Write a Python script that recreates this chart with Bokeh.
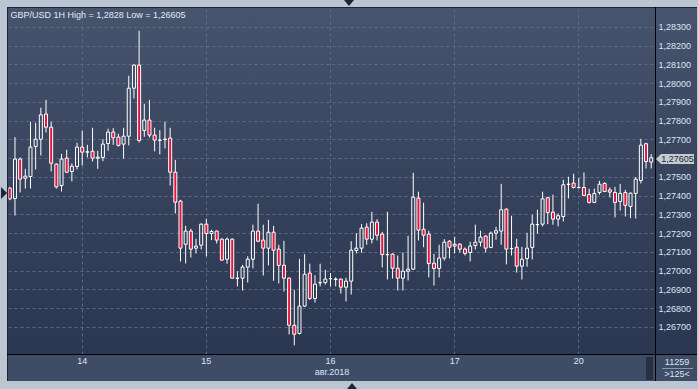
from bokeh.plotting import figure
from bokeh.models import ColumnDataSource, FixedTicker, Range1d, Label, CustomJSTickFormatter
from bokeh.embed import file_html
from bokeh.resources import INLINE

# ---------------- data (GBP/USD, 1H candles, 13-20 Aug 2018) ----------------
open_ = [1.27443, 1.27388, 1.27598, 1.27496, 1.27505, 1.27665, 1.27704, 1.27838, 1.27768, 1.27571,
         1.27457, 1.27603, 1.27532, 1.27559, 1.27662, 1.27635, 1.27640, 1.27603, 1.27607, 1.27681,
         1.27742, 1.27715, 1.27678, 1.27720, 1.27976, 1.28099, 1.27751, 1.27806, 1.27726, 1.27699,
         1.27703, 1.27710, 1.27528, 1.27374, 1.27144, 1.27214, 1.27123, 1.27139, 1.27251, 1.27201,
         1.27214, 1.27171, 1.27064, 1.27171, 1.26963, 1.26963, 1.27022, 1.27064, 1.27214, 1.27166,
         1.27123, 1.27208, 1.27118, 1.27032, 1.26963, 1.26712, 1.26668, 1.26814, 1.26990, 1.26855,
         1.26938, 1.26940, 1.26960, 1.26958, 1.26958, 1.26915, 1.26947, 1.27111, 1.27123, 1.27235,
         1.27171, 1.27262, 1.27198, 1.27089, 1.27091, 1.27016, 1.26963, 1.27000, 1.27011, 1.27390,
         1.27224, 1.27198, 1.27043, 1.27015, 1.27070, 1.27160, 1.27134, 1.27144, 1.27118, 1.27100,
         1.27137, 1.27155, 1.27187, 1.27127, 1.27203, 1.27214, 1.27331, 1.27120, 1.27128, 1.27027,
         1.27068, 1.27127, 1.27248, 1.27251, 1.27392, 1.27315, 1.27278, 1.27292, 1.27463, 1.27470,
         1.27447, 1.27447, 1.27409, 1.27367, 1.27420, 1.27468, 1.27434, 1.27420, 1.27372, 1.27420,
         1.27345, 1.27415, 1.27484, 1.27680, 1.27582]
high = [1.27450, 1.27715, 1.27607, 1.27546, 1.27797, 1.27792, 1.27872, 1.27914, 1.27797, 1.27575,
        1.27626, 1.27648, 1.27575, 1.27685, 1.27749, 1.27674, 1.27765, 1.27642, 1.27704, 1.27760,
        1.27763, 1.27733, 1.27765, 1.28042, 1.28103, 1.28282, 1.27893, 1.27914, 1.27765, 1.27752,
        1.27797, 1.27765, 1.27594, 1.27381, 1.27242, 1.27226, 1.27173, 1.27255, 1.27280, 1.27221,
        1.27217, 1.27176, 1.27180, 1.27175, 1.27000, 1.27034, 1.27080, 1.27248, 1.27360, 1.27248,
        1.27274, 1.27242, 1.27141, 1.27162, 1.26967, 1.26901, 1.27066, 1.27091, 1.27040, 1.26979,
        1.27040, 1.27008, 1.26990, 1.26968, 1.26961, 1.26965, 1.27160, 1.27203, 1.27251, 1.27256,
        1.27317, 1.27278, 1.27210, 1.27317, 1.27095, 1.27084, 1.27100, 1.27189, 1.27525, 1.27424,
        1.27365, 1.27216, 1.27093, 1.27141, 1.27171, 1.27166, 1.27184, 1.27150, 1.27127, 1.27157,
        1.27248, 1.27216, 1.27192, 1.27212, 1.27237, 1.27466, 1.27335, 1.27296, 1.27173, 1.27130,
        1.27205, 1.27301, 1.27328, 1.27424, 1.27397, 1.27408, 1.27308, 1.27488, 1.27504, 1.27520,
        1.27498, 1.27527, 1.27440, 1.27441, 1.27482, 1.27475, 1.27447, 1.27450, 1.27466, 1.27434,
        1.27420, 1.27502, 1.27706, 1.27685, 1.27624]
low = [1.27379, 1.27297, 1.27420, 1.27441, 1.27441, 1.27543, 1.27617, 1.27740, 1.27532, 1.27441,
       1.27425, 1.27525, 1.27479, 1.27543, 1.27564, 1.27607, 1.27585, 1.27546, 1.27587, 1.27642,
       1.27674, 1.27665, 1.27601, 1.27671, 1.27921, 1.27687, 1.27717, 1.27713, 1.27639, 1.27623,
       1.27655, 1.27457, 1.27308, 1.27052, 1.27041, 1.27073, 1.27095, 1.27116, 1.27079, 1.27166,
       1.27148, 1.27056, 1.27040, 1.26960, 1.26919, 1.26897, 1.26940, 1.27015, 1.27155, 1.26977,
       1.27031, 1.26949, 1.26935, 1.26892, 1.26663, 1.26605, 1.26663, 1.26810, 1.26846, 1.26833,
       1.26919, 1.26929, 1.26919, 1.26919, 1.26881, 1.26839, 1.26876, 1.27095, 1.27098, 1.27141,
       1.27148, 1.27164, 1.27020, 1.26956, 1.26961, 1.26897, 1.26897, 1.26951, 1.27008, 1.27164,
       1.27128, 1.26967, 1.26924, 1.26967, 1.27057, 1.27068, 1.27095, 1.27100, 1.27084, 1.27052,
       1.27116, 1.27132, 1.27100, 1.27123, 1.27168, 1.27141, 1.27036, 1.27084, 1.26993, 1.26956,
       1.27024, 1.27063, 1.27200, 1.27239, 1.27251, 1.27248, 1.27239, 1.27265, 1.27388, 1.27441,
       1.27441, 1.27400, 1.27361, 1.27363, 1.27408, 1.27422, 1.27393, 1.27287, 1.27324, 1.27292,
       1.27283, 1.27281, 1.27468, 1.27548, 1.27548]
close = [1.27386, 1.27598, 1.27491, 1.27507, 1.27662, 1.27704, 1.27834, 1.27768, 1.27576, 1.27450,
         1.27598, 1.27528, 1.27560, 1.27662, 1.27635, 1.27637, 1.27603, 1.27608, 1.27678, 1.27742,
         1.27712, 1.27671, 1.27720, 1.27976, 1.28099, 1.27697, 1.27806, 1.27726, 1.27699, 1.27698,
         1.27704, 1.27528, 1.27368, 1.27123, 1.27214, 1.27118, 1.27134, 1.27251, 1.27201, 1.27212,
         1.27166, 1.27059, 1.27171, 1.26963, 1.26962, 1.27022, 1.27064, 1.27214, 1.27160, 1.27123,
         1.27208, 1.27112, 1.27031, 1.26963, 1.26712, 1.26664, 1.26814, 1.26984, 1.26855, 1.26931,
         1.26940, 1.26958, 1.26961, 1.26956, 1.26915, 1.26947, 1.27112, 1.27123, 1.27230, 1.27171,
         1.27262, 1.27192, 1.27089, 1.27088, 1.27016, 1.26963, 1.27000, 1.27011, 1.27395, 1.27219,
         1.27192, 1.27041, 1.27015, 1.27070, 1.27155, 1.27128, 1.27144, 1.27118, 1.27095, 1.27134,
         1.27155, 1.27182, 1.27123, 1.27203, 1.27216, 1.27328, 1.27118, 1.27121, 1.27027, 1.27064,
         1.27123, 1.27251, 1.27249, 1.27386, 1.27313, 1.27278, 1.27296, 1.27461, 1.27464, 1.27447,
         1.27446, 1.27404, 1.27367, 1.27415, 1.27464, 1.27425, 1.27422, 1.27367, 1.27415, 1.27351,
         1.27416, 1.27491, 1.27672, 1.27585, 1.27605]

date_tick_pos = [14, 38, 62, 86, 110]
date_tick_labels = ["14", "15", "16", "17", "20"]
month_label = "авг.2018"
price_ticks = [1.267, 1.268, 1.269, 1.270, 1.271, 1.272, 1.273, 1.274, 1.275,
               1.276, 1.277, 1.278, 1.279, 1.280, 1.281, 1.282, 1.283]
title_text = "GBP/USD 1H High = 1,2828 Low = 1,26605"
last_price_text = "1,27605"
bars_count_text = "11259"
visible_bars_text = "&gt;125&lt;"

# ---------------- layout / style ----------------
W, H = 690, 374            # figure size (placed at page offset 7,7)
FIG_X, FIG_Y = 7, 7
BL, BR, BT, BB = 1, 42, 1, 27
FRAME_W = W - BL - BR
FRAME_H = H - BT - BB
X0, X1 = -0.25, 124.83
Y0, Y1 = 1.26556, 1.28401

TEXT = "#dbe5f3"
FONT = "Liberation Sans"
BEAR_FILL = "#e3173e"
TAG_BG = "#c6cbd2"


def data_x(abs_px):
    return X0 + (abs_px - FIG_X - BL) * (X1 - X0) / FRAME_W


def data_y(abs_py):
    return Y1 - (abs_py - FIG_Y - BT) * (Y1 - Y0) / FRAME_H


def page_y(price):
    return FIG_Y + BT + (Y1 - price) * FRAME_H / (Y1 - Y0)


xs = list(range(len(open_)))
body_top = [max(o, c) for o, c in zip(open_, close)]
body_bot = [min(o, c) for o, c in zip(open_, close)]
is_bear = [c < o for o, c in zip(open_, close)]
src = ColumnDataSource(dict(
    x=xs, h=high, l=low, top=body_top, bot=body_bot,
    fill=[BEAR_FILL if b else "#000000" for b in is_bear],
    falpha=[1.0 if b else 0.0 for b in is_bear],
))

p = figure(width=W, height=H, output_backend="svg", toolbar_location=None, tools="",
           x_range=Range1d(X0, X1), y_range=Range1d(Y0, Y1),
           y_axis_location="right",
           min_border_left=BL, min_border_right=BR, min_border_top=BT, min_border_bottom=BB)
p.border_fill_alpha = 0
p.background_fill_alpha = 0
p.outline_line_color = None

# CSS background: gradient plot panel, bottom date strip, black separators
layers = [
    ("#000000", 0, FRAME_H + BT, W, 1),              # horizontal separator
    ("#000000", W - BR, 0, 1, H),                     # vertical separator
    ("#1c2538", 0, 0, 1, H),                          # left edge
    ("#1c2538", 0, 0, W, 1),                          # top edge
    ("#8d99ae", 655, 361, 31, 1),                     # line in corner box
    ("#263043", 639, 350, 7, 23),                     # small scroll box
    ("#3f4c66", 0, FRAME_H + BT + 1, W, BB - 1),      # bottom strip
]
imgs, poss, sizes = [], [], []
for col, lx, ly, lw, lh in layers:
    imgs.append(f"linear-gradient({col}, {col})")
    poss.append(f"{lx}px {ly}px")
    sizes.append(f"{lw}px {lh}px")
imgs.append("linear-gradient(to bottom, #47546e 0%, #36425c 50%, #29344e 100%)")
poss.append("0px 0px")
sizes.append("100% 100%")
p.styles = {
    "background-image": ", ".join(imgs),
    "background-position": ", ".join(poss),
    "background-size": ", ".join(sizes),
    "background-repeat": "no-repeat",
}

# axes
yax = p.yaxis[0]
yax.ticker = FixedTicker(ticks=price_ticks)
yax.formatter = CustomJSTickFormatter(
    args=dict(last=close[-1]),
    code="if (Math.abs(tick - last) < 0.0004) return ''; return tick.toFixed(5).replace('.', ',');")
yax.axis_line_color = "#000000"
yax.major_tick_line_color = None
yax.minor_tick_line_color = None
yax.major_tick_out = 0
yax.major_tick_in = 0
yax.major_label_standoff = 3
yax.major_label_text_font = FONT
yax.major_label_text_font_size = "9px"
yax.major_label_text_color = TEXT

xax = p.xaxis[0]
xax.ticker = FixedTicker(ticks=date_tick_pos)
xax.formatter = CustomJSTickFormatter(
    args=dict(pos=date_tick_pos, labs=date_tick_labels),
    code="const i = pos.indexOf(tick); return i >= 0 ? labs[i] : '';")
xax.axis_line_color = "#000000"
xax.major_tick_line_color = None
xax.minor_tick_line_color = None
xax.major_tick_out = 0
xax.major_tick_in = 0
xax.major_label_standoff = 3
xax.major_label_text_font = FONT
xax.major_label_text_font_size = "9px"
xax.major_label_text_color = TEXT
xax.axis_label = month_label
xax.axis_label_standoff = 0
xax.axis_label_text_font = FONT
xax.axis_label_text_font_size = "9px"
xax.axis_label_text_font_style = "normal"
xax.axis_label_text_color = TEXT

for g in (p.xgrid[0], p.ygrid[0]):
    g.grid_line_color = "#5d6a84"
    g.grid_line_dash = "3 3"
    g.grid_line_width = 1
p.xgrid[0].ticker = FixedTicker(ticks=date_tick_pos)
p.ygrid[0].ticker = FixedTicker(ticks=price_ticks)

# candles
BODY_W = 3.0 * (X1 - X0) / FRAME_W
p.segment(x0="x", y0="h", x1="x", y1="top", source=src, line_color="#ffffff", line_width=1)
p.segment(x0="x", y0="bot", x1="x", y1="l", source=src, line_color="#ffffff", line_width=1)
p.vbar(x="x", width=BODY_W, top="top", bottom="bot", source=src,
       fill_color="fill", fill_alpha="falpha", line_color="#ffffff", line_width=1)

# title inside the plot area
p.add_layout(Label(x=data_x(10), y=data_y(14), text=title_text, text_font=FONT,
                   text_font_size="9px", text_color="#e3eaf4",
                   text_align="left", text_baseline="middle"))

html = file_html(p, INLINE, title="GBP/USD 1H")
css = ("<style>html,body{margin:0!important;background:#bcc6d3!important;}"
       "body{padding:7px 0 0 7px!important;box-sizing:border-box;}"
       ".ov{position:absolute;z-index:10;font-family:'Liberation Sans',sans-serif;"
       "font-size:9px;white-space:nowrap;}</style>")

tag_cy = page_y(close[-1]) + 1.5
tag_top = round(tag_cy - 5)
overlay = (
    # side markers of the window
    '<div class="ov" style="left:1px;top:187px;width:0;height:0;'
    'border-top:6px solid transparent;border-bottom:6px solid transparent;'
    'border-left:6px solid #1b2538;"></div>'
    '<div class="ov" style="left:344px;top:0px;width:0;height:0;'
    'border-left:5px solid transparent;border-right:5px solid transparent;'
    'border-top:6px solid #1b2538;"></div>'
    '<div class="ov" style="left:347px;top:383px;width:0;height:0;'
    'border-left:5px solid transparent;border-right:5px solid transparent;'
    'border-bottom:6px solid #1b2538;"></div>'
    # last price tag
    f'<div class="ov" style="left:656px;top:{tag_top}px;width:0;height:0;'
    f'border-top:5px solid transparent;border-bottom:5px solid transparent;'
    f'border-right:5px solid {TAG_BG};"></div>'
    f'<div class="ov" style="left:661px;top:{tag_top}px;width:33px;height:10px;'
    f'line-height:10px;background:{TAG_BG};color:#1e2533;text-align:center;">{last_price_text}</div>'
    # bar counters in the corner box
    f'<div class="ov" style="left:657px;top:356px;width:40px;line-height:12px;'
    f'text-align:center;color:{TEXT};">{bars_count_text}</div>'
    f'<div class="ov" style="left:657px;top:368px;width:40px;line-height:12px;'
    f'text-align:center;color:{TEXT};">{visible_bars_text}</div>'
)
html = html.replace("</head>", css + "</head>", 1)
html = html.replace("</body>", overlay + "</body>", 1)
with open("out.html", "w", encoding="utf-8") as f:
    f.write(html)
